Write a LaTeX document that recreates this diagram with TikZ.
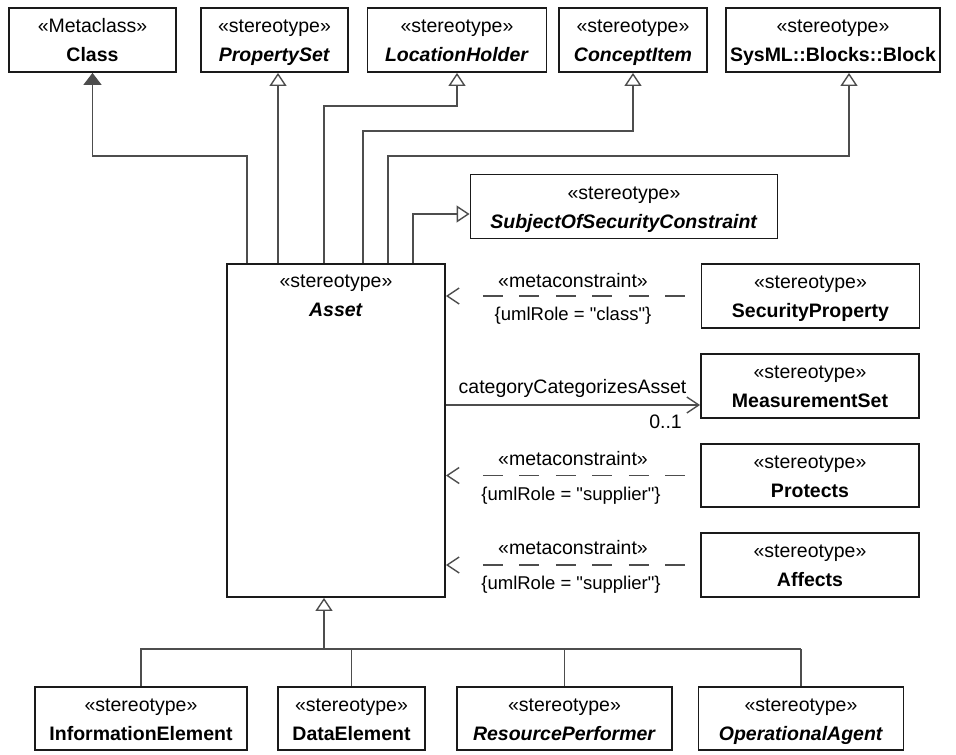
\documentclass[tikz,border=0pt]{standalone}
\usepackage{fontspec}
\setmainfont{Liberation Sans}[Ligatures=TeXOff]
\usetikzlibrary{arrows.meta}
\definecolor{boxcol}{HTML}{1A1A1A}
\definecolor{linecol}{HTML}{4D4D4D}
\newcommand\stb[1]{\textbf{#1}\vphantom{y}}
\newcommand\sti[1]{\textbf{\textit{#1}}\vphantom{y}}
\newcommand\sttop[1]{\rule{0pt}{19pt}«#1»}
\begin{document}
\begin{tikzpicture}[x=1pt,y=-1pt,
  box/.style={draw=boxcol, line width=1.8pt, inner sep=0pt, align=center,
    font=\fontsize{19.5}{29}\selectfont},
  topbox/.style={box, minimum height=64pt},
  sidebox/.style={box, minimum width=218pt, minimum height=64pt},
  botbox/.style={box, minimum height=63pt},
  conn/.style={draw=linecol, line width=1.4pt},
  gen/.style={conn, -{Triangle[open, length=13pt, width=17pt, fill=white]}},
  genfill/.style={conn, -{Triangle[length=12pt, width=18pt]}},
  assoc/.style={conn, -{Straight Barb[length=12pt, width=16pt]}},
  mcline/.style={conn, {Straight Barb[length=12pt, width=16pt]}-,
    dash pattern=on 0pt off 35pt on 20pt off 16.5pt on 20pt off 16.5pt on 20pt off 16.5pt on 20pt off 16.5pt on 20pt off 16.5pt on 20pt off 100pt},
  lbl/.style={inner sep=0pt, font=\fontsize{19.5}{23}\selectfont},
  sml/.style={inner sep=0pt, font=\fontsize{18.5}{22}\selectfont}
]
\useasboundingbox (0,0) rectangle (956,755);

% top row
\node[topbox, minimum width=167pt] (cls) at (92.5,40) {\sttop{Metaclass}\\\stb{Class}};
\node[topbox, minimum width=147pt] (ps) at (274.5,40) {\sttop{stereotype}\\\sti{PropertySet}};
\node[topbox, minimum width=179pt] (lh) at (457,40) {\sttop{stereotype}\\\sti{LocationHolder}};
\node[topbox, minimum width=148pt] (ci) at (633,40) {\sttop{stereotype}\\\sti{ConceptItem}};
\node[topbox, minimum width=214pt] (blk) at (833,40) {\sttop{stereotype}\\\stb{SysML::Blocks::Block}};

\node[topbox, minimum width=307pt] (soc) at (624,206.5) {\sttop{stereotype}\\\sti{SubjectOfSecurityConstraint}};

% asset
\node[box, minimum width=218pt, minimum height=333pt] (asset) at (336,430.5) {};
\node[inner sep=0pt, align=center, anchor=north, font=\fontsize{19.5}{29}\selectfont]
  (assetlbl) at ([yshift=-12pt]asset.north) {«stereotype»\\\sti{Asset}};

% right column
\node[sidebox] (sp) at (810.5,296) {\sttop{stereotype}\\\stb{SecurityProperty}};
\node[sidebox] (ms) at (810,386) {\sttop{stereotype}\\\stb{MeasurementSet}};
\node[sidebox, minimum height=63pt] (pr) at (810,475.5) {\sttop{stereotype}\\\stb{Protects}};
\node[sidebox] (af) at (810,565) {\sttop{stereotype}\\\stb{Affects}};

% bottom row
\node[botbox, minimum width=212pt] (ie) at (141,718.5) {\sttop{stereotype}\\\stb{InformationElement}};
\node[botbox, minimum width=147pt] (de) at (351.5,718.5) {\sttop{stereotype}\\\stb{DataElement}};
\node[botbox, minimum width=215pt] (rp) at (564.5,718.5) {\sttop{stereotype}\\\sti{ResourcePerformer}};
\node[botbox, minimum width=205pt] (oa) at (801,718.5) {\sttop{stereotype}\\\sti{OperationalAgent}};

% generalizations upward
\coordinate (k1) at (247,156);
\coordinate (k2) at (278,0);
\coordinate (k3) at (324,106);
\coordinate (k4) at (363,131);
\coordinate (k5) at (388,156);
\coordinate (a5) at (849,0);
\coordinate (k6) at (413,214);
\draw[genfill] (asset.north -| k1) -- (k1) -| (cls.south);
\draw[gen] (asset.north -| k2) -- (ps.south -| k2);
\draw[gen] (asset.north -| k3) -- (k3) -| (lh.south);
\draw[gen] (asset.north -| k4) -- (k4) -| (ci.south);
\draw[gen] (asset.north -| k5) -- (k5) -| (blk.south -| a5);
\draw[gen] (asset.north -| k6) -- (k6) -- (soc.west |- k6);

% generalizations from bottom
\coordinate (bus) at (324,649);
\draw[conn] (ie.north) |- (oa.north |- bus);
\draw[conn] (de.north) -- (de.north |- bus);
\draw[conn] (rp.north) -- (rp.north |- bus);
\draw[conn] (oa.north) -- (oa.north |- bus);
\draw[gen] (bus) -- (asset.south -| bus);

% association
\coordinate (m1) at (0,405);
\draw[assoc] (asset.east |- m1) -- (ms.west |- m1);
\node[lbl] (catlbl) at (572.5,388.5) {categoryCategorizesAsset};
\node[lbl, anchor=east] (mult) at (682,422) {0..1};

% metaconstraints
\draw[mcline] (sp.west -| asset.east) -- (sp.west);
\node[lbl] (mc1) at (573,281) {«metaconstraint»};
\node[sml] (r1) at (573,316) {\{umlRole = "class"\}};

\draw[mcline] (pr.west -| asset.east) -- (pr.west);
\node[lbl] (mc2) at (573,459) {«metaconstraint»};
\node[sml] (r2) at (571,496) {\{umlRole = "supplier"\}};

\draw[mcline] (af.west -| asset.east) -- (af.west);
\node[lbl] (mc3) at (573,548) {«metaconstraint»};
\node[sml] (r3) at (571,585) {\{umlRole = "supplier"\}};
\end{tikzpicture}
\end{document}
